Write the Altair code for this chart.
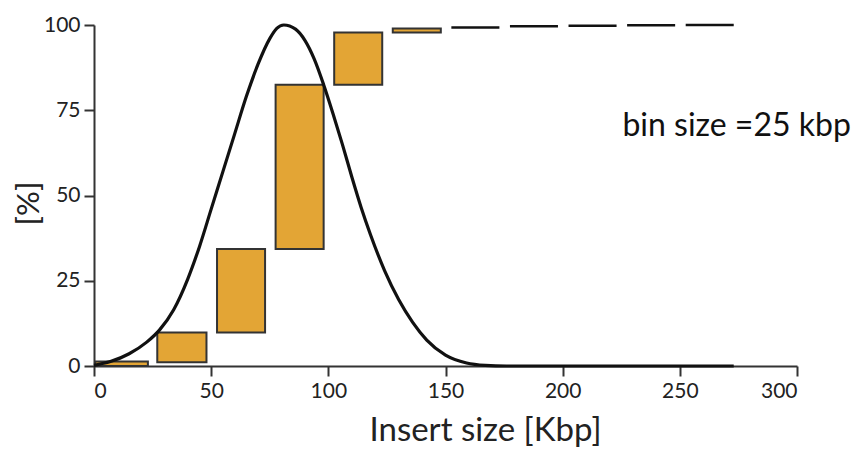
import altair as alt
import pandas as pd

# Cumulative-percentage bins (bin size = 25 kbp)
bin_x_start = [0.5, 27.0, 52.5, 77.5, 102.5, 127.5, 152.5, 177.5, 202.5, 227.5, 252.5]
bin_x_end = [23.0, 48.0, 73.0, 98.0, 123.0, 148.0, 173.0, 198.0, 223.0, 248.0, 273.0]
bin_low = [0.0, 1.1, 9.8, 34.3, 82.5, 97.8, 99.3, 99.6, 99.8, 99.9, 100.0]
bin_high = [1.3, 9.8, 34.3, 82.5, 97.8, 99.0, 99.3, 99.6, 99.8, 99.9, 100.0]
is_box = [True, True, True, True, True, True, False, False, False, False, False]

# Distribution curve
curve_x = [0, 7, 15, 22.5, 28, 34, 40, 45, 50, 55, 60, 65, 70, 75, 78, 81,
           86, 90, 94, 98, 102, 106, 110, 114, 118, 124, 130, 136, 142, 150,
           159, 167, 176, 200, 225, 250, 273]
curve_y = [0.2, 1.3, 3.6, 7.0, 10.6, 16.5, 25.5, 35.0, 46.0, 57.0, 68.0, 79.0,
           88.5, 96.0, 99.0, 100.0, 98.8, 95.5, 90.0, 82.5, 74.0, 65.0, 55.5,
           46.5, 38.5, 28.0, 19.5, 12.8, 7.6, 3.2, 0.9, 0.2, 0.0, 0.0, 0.0,
           0.0, 0.0]

annotation = "bin size =25 kbp"
x_ticks = [0, 50, 100, 150, 200, 250, 300]
y_ticks = [0, 25, 50, 75, 100]

FONT = "Lato"

bins = pd.DataFrame({"x": bin_x_start, "x2": bin_x_end, "lo": bin_low,
                     "hi": bin_high, "box": is_box})
curve = pd.DataFrame({"x": curve_x, "y": curve_y})

xscale = alt.Scale(domain=[0, 300], nice=False)
yscale = alt.Scale(domain=[0, 100], nice=False)

xaxis = alt.Axis(values=x_ticks, title="Insert size [Kbp]", grid=False,
                 labelFontSize=21, labelFont=FONT, labelColor="#222",
                 tickSize=10, tickWidth=2, tickColor="#333",
                 domainWidth=2, domainColor="#333", labelPadding=4,
                 titleFont=FONT, titleFontSize=33, titleFontWeight="normal",
                 titleColor="#222", titleX=391, titleY=74,
                 titleBaseline="alphabetic", titleAlign="center")
yaxis = alt.Axis(values=y_ticks, title="[%]", grid=False,
                 labelFontSize=21, labelFont=FONT, labelColor="#222",
                 tickSize=10, tickWidth=2, tickColor="#333",
                 domainWidth=2, domainColor="#333", labelPadding=4,
                 titleFont=FONT, titleFontSize=31, titleFontWeight="normal",
                 titleColor="#222", titleX=-65, titleY=178, titleAngle=270,
                 titleAlign="center", titleBaseline="middle")

boxes = alt.Chart(bins).transform_filter("datum.box").mark_rect(
    fill="#E3A535", stroke="#333333", strokeWidth=2
).encode(
    x=alt.X("x:Q", scale=xscale, axis=xaxis),
    x2="x2:Q",
    y=alt.Y("lo:Q", scale=yscale, axis=yaxis),
    y2="hi:Q",
)

dashes = alt.Chart(bins).transform_filter("!datum.box").mark_rule(
    color="#111111", strokeWidth=2.5
).encode(
    x=alt.X("x:Q", scale=xscale),
    x2="x2:Q",
    y=alt.Y("hi:Q", scale=yscale),
)

line = alt.Chart(curve).mark_line(
    color="#111111", strokeWidth=3.2, interpolate="monotone"
).encode(
    x=alt.X("x:Q", scale=xscale),
    y=alt.Y("y:Q", scale=yscale),
)

text = alt.Chart(pd.DataFrame({"x": [225.5], "y": [70.5], "t": [annotation]})).mark_text(
    align="left", baseline="middle", fontSize=32, font=FONT, color="#111"
).encode(
    x=alt.X("x:Q", scale=xscale),
    y=alt.Y("y:Q", scale=yscale),
    text="t:N",
)

chart = alt.layer(boxes, dashes, line, text).properties(
    width=703, height=341,
    autosize=alt.AutoSizeParams(type="none"),
    padding={"left": 86, "top": 17, "right": 61, "bottom": 81},
).configure_view(stroke=None)

chart.save("out.html", embed_options={"renderer": "svg", "actions": False})
